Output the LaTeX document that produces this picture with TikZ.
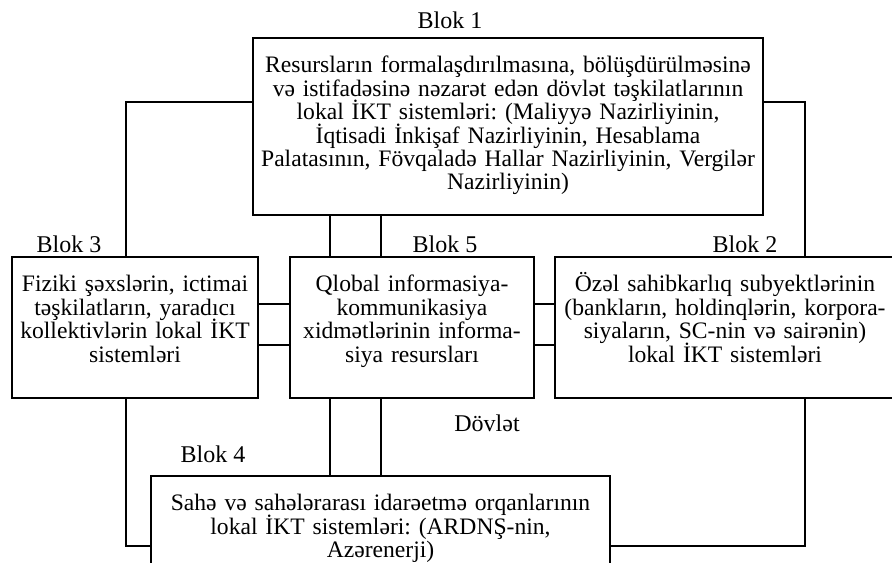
\documentclass[tikz,border=0pt]{standalone}
\usepackage{fontspec}
\setmainfont{Liberation Serif}
\usetikzlibrary{positioning, calc}
\frenchspacing
\newcommand{\boxfont}{\fontsize{11.8}{11.7}\selectfont\lineskiplimit=-6pt\relax}

\begin{document}
\begin{tikzpicture}[x=0.5pt, y=-0.5pt,
    box/.style={rectangle, draw, line width=0.9pt, anchor=north, align=center,
                inner xsep=1pt, inner ysep=3pt, text height=14.5pt,
                font=\boxfont},
    blok/.style={anchor=base, font=\fontsize{12}{14}\selectfont},
    link/.style={line width=0.9pt}]

    \useasboundingbox (0,0) rectangle (892,562);
    \clip (0,0) rectangle (892,562);

    % Blocks
    \node[box, text width=253pt, text depth=68pt] (b1) at (508,37) {
        Resursların formalaşdırılmasına, bölüşdürülməsinə\\
        və istifadəsinə nəzarət edən dövlət təşkilatlarının\\
        lokal İKT sistemləri: (Maliyyə Nazirliyinin,\\
        İqtisadi İnkişaf Nazirliyinin, Hesablama\\
        Palatasının, Fövqaladə Hallar Nazirliyinin, Vergilər\\
        Nazirliyinin)
    };
    \node[box, text width=121pt, text depth=50pt] (b3) at (135,256) {
        Fiziki şəxslərin, ictimai\\
        təşkilatların, yaradıcı\\
        kollektivlərin lokal İKT\\
        sistemləri
    };
    \node[box, text width=120pt, text depth=50pt] (b5) at (412,256) {
        Qlobal informasiya-\\
        kommunikasiya\\
        xidmətlərinin informa-\\
        siya resursları
    };
    \node[box, text width=168pt, text depth=50pt] (b2) at (725,256) {
        Özəl sahibkarlıq subyektlərinin\\
        (bankların, holdinqlərin, korpora-\\
        siyaların, SC-nin və sairənin)\\
        lokal İKT sistemləri
    };
    \node[box, text width=227.5pt, text depth=45pt] (b4) at (380.5,475) {
        Sahə və sahələrarası idarəetmə orqanlarının\\
        lokal İKT sistemləri: (ARDNŞ-nin,\\
        Azərenerji)
    };

    % Labels
    \node[blok] (blk1) at (450,28) {Blok 1};
    \node[blok] (blk3) at (69,252) {Blok 3};
    \node[blok] (blk5) at (445,252) {Blok 5};
    \node[blok] (blk2) at (745,252) {Blok 2};
    \node[blok] (blk4) at (213,462) {Blok 4};
    \node[blok] (dov) at (487,431) {Dövlət};

    % Bus lines
    \coordinate (lbus) at (126,0);
    \coordinate (rbus) at (805,0);
    \coordinate (topbus) at (0,102);
    \coordinate (lowbus) at (0,546);
    \coordinate (v1) at (330,0);
    \coordinate (v2) at (381,0);
    \coordinate (h1) at (0,304);
    \coordinate (h2) at (0,345);

    % Connections
    \draw[link] (b1.west |- topbus) -| (lbus |- b3.north);
    \draw[link] (b1.east |- topbus) -| (rbus |- b2.north);
    \draw[link] (lbus |- b3.south) |- (b4.west |- lowbus);
    \draw[link] (rbus |- b2.south) |- (b4.east |- lowbus);
    \foreach \v in {v1,v2} {
        \draw[link] (\v |- b1.south) -- (\v |- b5.north);
        \draw[link] (\v |- b5.south) -- (\v |- b4.north);
    }
    \foreach \h in {h1,h2} {
        \draw[link] (b3.east |- \h) -- (b5.west |- \h);
        \draw[link] (b5.east |- \h) -- (b2.west |- \h);
    }
\end{tikzpicture}
\end{document}
